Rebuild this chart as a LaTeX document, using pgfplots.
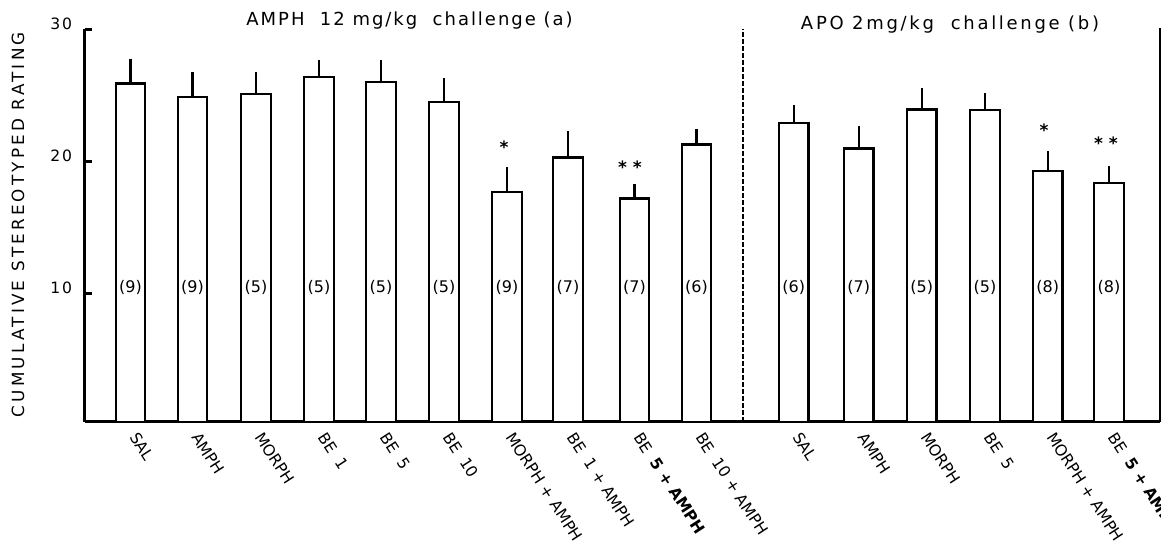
\documentclass[border=0pt]{standalone}
\usepackage{pgfplots}
\pgfplotsset{compat=1.18}
\usepackage{pgfplotstable}
\usepackage{fontspec}
\setmainfont{DejaVu Sans}
\newfontfamily\tfont[LetterSpace=11]{DejaVu Sans}
\newfontfamily\tbfont[LetterSpace=15]{DejaVu Sans}
\newfontfamily\yfont[LetterSpace=19]{DejaVu Sans}

\pgfplotstableread{
x y e
130.5 25.9 1.7
192.5 24.9 1.7
256 25.1 1.45
319 26.4 1.1
381 26.0 1.5
444 24.5 1.6
507 17.7 1.7
568 20.3 1.8
634.5 17.2 0.9
696.5 21.3 1.0
793.7 22.9 1.2
858.8 21.0 1.5
921.7 23.95 1.45
985 23.9 1.1
1047.7 19.3 1.3
1109 18.4 1.1
}\bardata

\pgfplotstableread{
x y n
130.5 10.5 (9)
192.5 10.5 (9)
256 10.5 (5)
319 10.5 (5)
381 10.5 (5)
444 10.5 (5)
507 10.5 (9)
568 10.5 (7)
634.5 10.5 (7)
696.5 10.5 (6)
793.7 10.5 (6)
858.8 10.5 (7)
921.7 10.5 (5)
985 10.5 (5)
1047.7 10.5 (8)
1109 10.5 (8)
}\countdata

\pgfplotstableread{
x y s
504 21.1 *
630 19.6 *\hspace{3pt}*
1044 22.4 *
1106 21.4 *\hspace{3pt}*
}\stardata

\begin{document}
\begin{tikzpicture}
\useasboundingbox (-42.5pt,-61.5pt) rectangle (538pt,211pt);
\begin{axis}[
  at={(0,0)}, anchor=south west,
  scale only axis, width=537.5pt, height=196.3pt,
  xmin=85, xmax=1160, ymin=0.3, ymax=30,
  clip mode=individual,
  axis x line*=bottom, axis y line*=left,
  axis line style={line width=1.5pt},
  ytick={10,20,30},
  tick align=inside, major tick length=3.5pt,
  ytick style={line width=1.4pt, black},
  xtick={130.5,192.5,256,319,381,444,507,568,634.5,696.5,793.7,858.8,921.7,985,1047.7,1109},
  xticklabels={SAL,AMPH,MORPH,BE\ \ 1,BE\ \ 5,BE\ \ 10,MORPH + AMPH,BE\ \ 1 + AMPH,BE\ \ \textbf{5 + AMPH},BE\ \ 10 + AMPH,SAL,AMPH,MORPH,BE\ \ 5,MORPH + AMPH,BE\ \ \textbf{5 + AMPH}},
  xtick style={draw=none},
  xticklabel style={font=\fontsize{7.8}{9}\selectfont, yshift=-5pt, xshift=1pt, rotate=-57, anchor=west, inner sep=1pt},
  yticklabel style={font=\tfont\fontsize{7.8}{8}\selectfont, anchor=base east, xshift=-3pt},
  /pgf/number format/assume math mode=true,
  ylabel={CUMULATIVE STEREOTYPED RATING},
  every axis y label/.style={at={(axis description cs:0,0.5)}, xshift=-33.5pt, yshift=0.5pt, rotate=90, anchor=center, font=\yfont\fontsize{8.4}{9}\selectfont},
]
\addplot[ybar, bar width=29.5, fill=white, draw=black, line width=1.2pt,
  error bars/.cd, y dir=plus, y explicit,
  error bar style={line width=1.1pt},
  error mark options={line width=1.1pt, mark size=1.3pt}]
  table[x=x, y=y, y error=e] {\bardata};
\addplot[draw=none, mark=none, nodes near coords, point meta=explicit symbolic,
  nodes near coords style={anchor=center, font=\fontsize{8}{9}\selectfont, inner sep=0pt}]
  table[x=x, y=y, meta=n] {\countdata};
\addplot[draw=none, mark=none, nodes near coords, point meta=explicit symbolic,
  nodes near coords style={anchor=center, font=\bfseries\fontsize{8.5}{9}\selectfont, inner sep=0pt}]
  table[x=x, y=y, meta=s] {\stardata};
\draw[line width=1.2pt, dash pattern=on 2.5pt off 1pt] (axis cs:743,0.3) -- (axis cs:743,30);
\draw[line width=1.2pt] (axis cs:1160,0.3) -- (axis cs:1160,30.1);
\node[anchor=base, font=\tfont\fontsize{9}{10}\selectfont] at (axis cs:409.5,30.26) {AMPH\ \ 12 mg/kg\ \ challenge (a)};
\node[anchor=base, font=\tbfont\fontsize{9}{10}\selectfont] at (axis cs:950,30.03) {APO 2mg/kg\ \ challenge (b)};
\end{axis}
\end{tikzpicture}
\end{document}
